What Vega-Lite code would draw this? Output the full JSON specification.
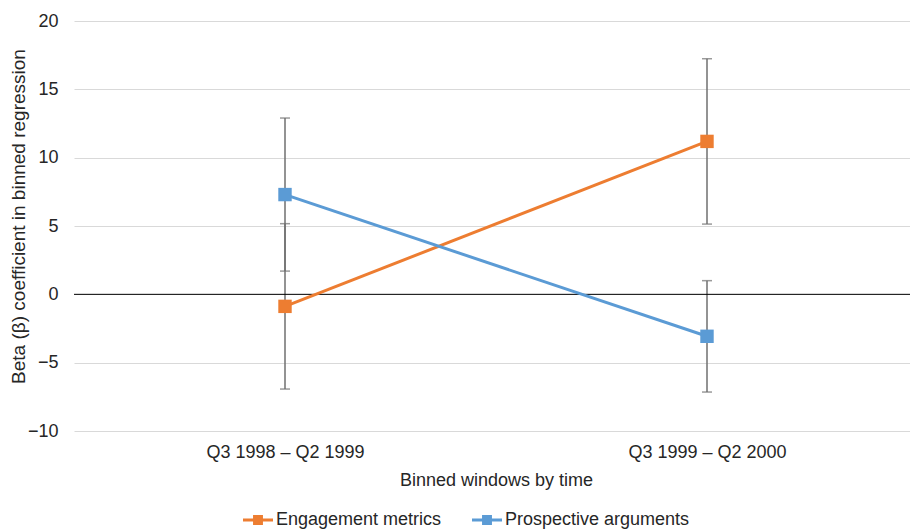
{
  "$schema": "https://vega.github.io/schema/vega-lite/v6.json",
  "width": 844,
  "height": 410,
  "autosize": "none",
  "padding": {"left": 74, "top": 21, "right": 0, "bottom": 98},
  "background": "white",
  "config": {
    "view": {"stroke": null},
    "font": "Liberation Sans",
    "axis": {"labelFont": "Liberation Sans", "titleFont": "Liberation Sans", "labelColor": "#262626", "titleColor": "#262626", "titleFontWeight": "normal"},
    "legend": {"labelFont": "Liberation Sans"}
  },
  "data": {
    "values": [
      {"window": "Q3 1998 – Q2 1999", "series": "Engagement metrics", "beta": -0.88, "lo": -6.93, "hi": 5.17},
      {"window": "Q3 1999 – Q2 2000", "series": "Engagement metrics", "beta": 11.19, "lo": 5.14, "hi": 17.24},
      {"window": "Q3 1998 – Q2 1999", "series": "Prospective arguments", "beta": 7.3, "lo": 1.7, "hi": 12.9},
      {"window": "Q3 1999 – Q2 2000", "series": "Prospective arguments", "beta": -3.07, "lo": -7.15, "hi": 1.0}
    ]
  },
  "encoding": {
    "x": {
      "field": "window", "type": "nominal",
      "scale": {"type": "point", "padding": 0.5},
      "axis": {"title": "Binned windows by time", "labelAngle": 0, "ticks": false, "domain": false, "labelFontSize": 18, "labelPadding": 12, "titleFontSize": 18, "titlePadding": 10, "grid": false}
    }
  },
  "layer": [
    {
      "mark": {"type": "rule", "color": "#6f6f6f", "strokeWidth": 1.5},
      "encoding": {
        "y": {"field": "lo", "type": "quantitative", "scale": {"domain": [-10, 20], "nice": false},
          "axis": {"title": "Beta (β) coefficient in binned regression", "values": [-10, -5, 0, 5, 10, 15, 20], "labelExpr": "replace(datum.label, '-', '−')", "domain": false, "ticks": false, "gridColor": "#d9d9d9", "gridWidth": 1, "labelFontSize": 18, "labelPadding": 16, "titleFontSize": 19, "titleX": -56, "titleY": 195, "titleAnchor": "middle", "titleAlign": "center", "titleBaseline": "middle", "titleAngle": -90}},
        "y2": {"field": "hi"}
      }
    },
    {
      "mark": {"type": "tick", "color": "#6f6f6f", "thickness": 1.5, "size": 10},
      "encoding": {"y": {"field": "lo", "type": "quantitative"}}
    },
    {
      "mark": {"type": "tick", "color": "#6f6f6f", "thickness": 1.5, "size": 10},
      "encoding": {"y": {"field": "hi", "type": "quantitative"}}
    },
    {
      "data": {"values": [{"z": 0}]},
      "mark": {"type": "rule", "color": "black", "strokeWidth": 1},
      "encoding": {"y": {"field": "z", "type": "quantitative"}, "x": null}
    },
    {
      "mark": {"type": "line", "strokeWidth": 3},
      "encoding": {
        "y": {"field": "beta", "type": "quantitative"},
        "color": {"field": "series", "type": "nominal", "scale": {"domain": ["Engagement metrics", "Prospective arguments"], "range": ["#ED7D31", "#5B9BD5"]},
          "legend": {"title": null, "orient": "none", "legendX": 169, "legendY": 484, "direction": "horizontal", "symbolType": "M-1,-0.1H1V0.1H-1Z M-0.33,-0.33H0.33V0.33H-0.33Z", "symbolSize": 900, "symbolStrokeWidth": 0, "symbolOpacity": 1, "labelFontSize": 18, "labelLimit": 0, "labelColor": "#262626", "labelOffset": 3, "columnPadding": 30}}
      }
    },
    {
      "mark": {"type": "point", "shape": "square", "filled": true, "size": 180, "opacity": 1},
      "encoding": {
        "y": {"field": "beta", "type": "quantitative"},
        "color": {"field": "series", "type": "nominal"}
      }
    }
  ]
}
